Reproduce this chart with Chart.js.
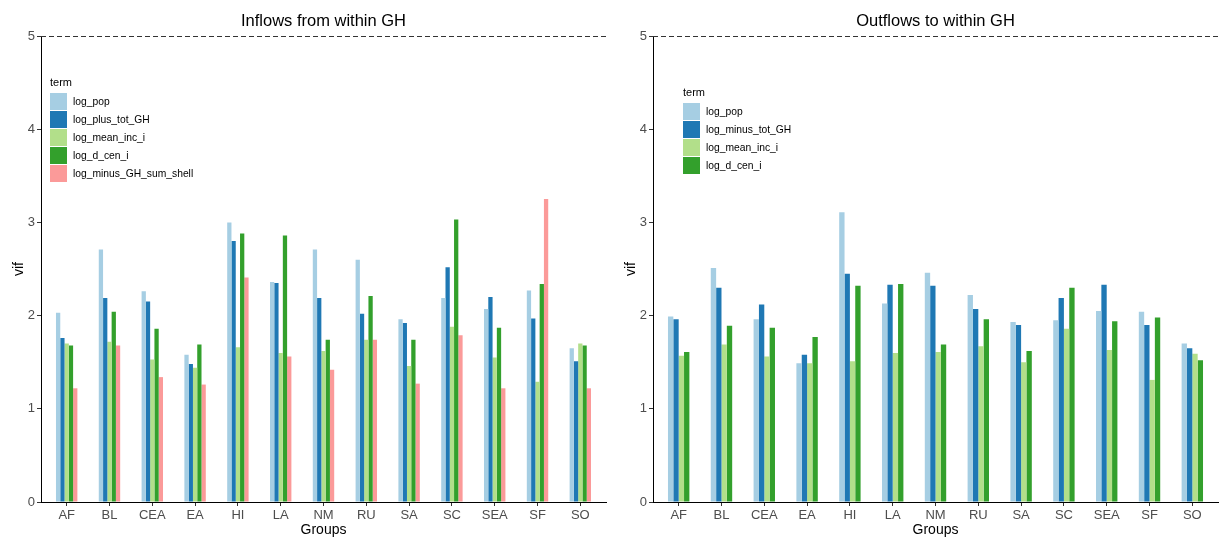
<!DOCTYPE html>
<html>
<head>
<meta charset="utf-8">
<script src="https://cdn.jsdelivr.net/npm/chart.js@4.4.1/dist/chart.umd.min.js"></script>
<style>
  body { margin: 0; background: #fff; }
  #wrap { position: relative; width: 1224px; height: 539px; }
  canvas { position: absolute; top: 0; }
  #inflow { left: 0; }
  #outflow { left: 612px; }
</style>
</head>
<body>
<div id="wrap">
  <canvas id="inflow" width="612" height="539"></canvas>
  <canvas id="outflow" width="612" height="539"></canvas>
</div>
<script>
const groups = ['AF','BL','CEA','EA','HI','LA','NM','RU','SA','SC','SEA','SF','SO'];
const yTicks = [0, 1, 2, 3, 4, 5];
const vifLimit = 5;

// inflows panel
const inLogPop        = [2.03, 2.71, 2.26, 1.58, 3.00, 2.36, 2.71, 2.60, 1.96, 2.19, 2.07, 2.27, 1.65];
const inLogPlusTotGH  = [1.76, 2.19, 2.15, 1.48, 2.80, 2.35, 2.19, 2.02, 1.92, 2.52, 2.20, 1.97, 1.51];
const inLogMeanInc    = [1.70, 1.72, 1.53, 1.44, 1.66, 1.60, 1.62, 1.74, 1.46, 1.88, 1.55, 1.29, 1.70];
const inLogDCen       = [1.68, 2.04, 1.86, 1.69, 2.88, 2.86, 1.74, 2.21, 1.74, 3.03, 1.87, 2.34, 1.68];
const inLogMinusShell = [1.22, 1.68, 1.34, 1.26, 2.41, 1.56, 1.42, 1.74, 1.27, 1.79, 1.22, 3.25, 1.22];

// outflows panel
const outLogPop        = [1.99, 2.51, 1.96, 1.49, 3.11, 2.13, 2.46, 2.22, 1.93, 1.95, 2.05, 2.04, 1.70];
const outLogMinusTotGH = [1.96, 2.30, 2.12, 1.58, 2.45, 2.33, 2.32, 2.07, 1.90, 2.19, 2.33, 1.90, 1.65];
const outLogMeanInc    = [1.57, 1.69, 1.56, 1.49, 1.51, 1.60, 1.61, 1.67, 1.50, 1.86, 1.63, 1.31, 1.59];
const outLogDCen       = [1.61, 1.89, 1.87, 1.77, 2.32, 2.34, 1.69, 1.96, 1.62, 2.30, 1.94, 1.98, 1.52];

const colors = ['#A6CEE3', '#1F78B4', '#B2DF8A', '#33A02C', '#FB9A99'];
const FONT = "'Liberation Sans', Arial, sans-serif";

function toPoints(vals) {
  return vals.map((v, i) => ({ x: i + 1, y: v }));
}

function makeDatasets(names, series) {
  return names.map((n, i) => ({
    label: n,
    data: toPoints(series[i]),
    backgroundColor: colors[i],
    borderWidth: 0,
    categoryPercentage: 0.5,
    barPercentage: 1.0
  }));
}

// dashed reference line at vif = 5
const limitLine = {
  id: 'limitLine',
  afterDatasetsDraw(chart) {
    const { ctx, chartArea, scales } = chart;
    const y = Math.round(scales.y.getPixelForValue(vifLimit)) + 0.5;
    ctx.save();
    ctx.strokeStyle = '#333';
    ctx.lineWidth = 1;
    ctx.setLineDash([5, 3]);
    ctx.beginPath();
    ctx.moveTo(chartArea.left, y);
    ctx.lineTo(chartArea.right, y);
    ctx.stroke();
    ctx.restore();
  }
};

// ggplot-style legend inside the panel
const termLegend = {
  id: 'termLegend',
  afterDraw(chart, args, opts) {
    const ctx = chart.ctx;
    ctx.save();
    ctx.fillStyle = '#000';
    ctx.textBaseline = 'middle';
    ctx.textAlign = 'left';
    ctx.font = '11px ' + FONT;
    ctx.fillText('term', opts.x, opts.y);
    ctx.font = '10.3px ' + FONT;
    chart.data.datasets.forEach((ds, i) => {
      const top = opts.y + 10 + i * 18;
      ctx.fillStyle = ds.backgroundColor;
      ctx.fillRect(opts.x, top, 17, 17);
      ctx.fillStyle = '#000';
      ctx.fillText(ds.label, opts.x + 23, top + 9);
    });
    ctx.restore();
  }
};

function makeChart(id, title, datasets, legendPos) {
  return new Chart(document.getElementById(id), {
    type: 'bar',
    data: { datasets: datasets },
    options: {
      responsive: false,
      animation: false,
      devicePixelRatio: 1,
      layout: { padding: { top: 0, right: 6, bottom: 0, left: 0 } },
      plugins: {
        legend: { display: false },
        tooltip: { enabled: false },
        title: {
          display: true,
          text: title,
          fullSize: false,
          color: '#000',
          font: { family: FONT, size: 16.5, weight: 'normal', lineHeight: '20px' },
          padding: { top: 11, bottom: 5 }
        },
        termLegend: legendPos
      },
      scales: {
        x: {
          type: 'linear',
          min: 0.4,
          max: 13.6,
          offset: false,
          afterBuildTicks: axis => { axis.ticks = groups.map((g, i) => ({ value: i + 1 })); },
          afterFit: scale => { scale.height = 37; },
          ticks: {
            autoSkip: false,
            maxRotation: 0,
            padding: 2,
            color: '#4D4D4D',
            font: { family: FONT, size: 13 },
            callback: v => groups[v - 1]
          },
          grid: { drawOnChartArea: false, offset: false, tickLength: 4, color: '#333' },
          border: { display: true, color: '#000', width: 1 },
          title: {
            display: true,
            text: 'Groups',
            color: '#000',
            font: { family: FONT, size: 14 },
            padding: { top: 0, bottom: 0 }
          }
        },
        y: {
          min: 0,
          max: 5,
          afterBuildTicks: axis => { axis.ticks = yTicks.map(v => ({ value: v })); },
          afterFit: scale => { scale.width = 41; },
          ticks: {
            padding: 2,
            color: '#4D4D4D',
            font: { family: FONT, size: 13 }
          },
          grid: { drawOnChartArea: false, tickLength: 4, color: '#333' },
          border: { display: true, color: '#000', width: 1 },
          title: {
            display: true,
            text: 'vif',
            color: '#000',
            font: { family: FONT, size: 14 },
            padding: { top: 11, bottom: 0 }
          }
        }
      }
    },
    plugins: [limitLine, termLegend]
  });
}

makeChart('inflow', 'Inflows from within GH',
  makeDatasets(['log_pop', 'log_plus_tot_GH', 'log_mean_inc_i', 'log_d_cen_i', 'log_minus_GH_sum_shell'],
    [inLogPop, inLogPlusTotGH, inLogMeanInc, inLogDCen, inLogMinusShell]),
  { x: 50, y: 83 });

makeChart('outflow', 'Outflows to within GH',
  makeDatasets(['log_pop', 'log_minus_tot_GH', 'log_mean_inc_i', 'log_d_cen_i'],
    [outLogPop, outLogMinusTotGH, outLogMeanInc, outLogDCen]),
  { x: 71, y: 93 });
</script>
</body>
</html>
